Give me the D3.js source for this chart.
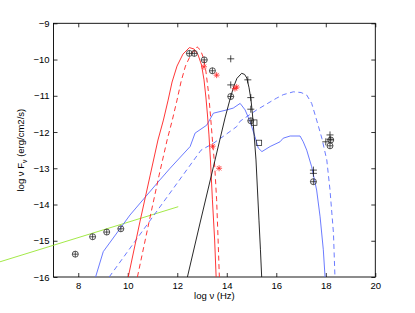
<!DOCTYPE html>
<html>
<head>
<meta charset="utf-8">
<script src="https://cdnjs.cloudflare.com/ajax/libs/d3/7.8.5/d3.min.js"></script>
<style>
body { margin: 0; background: #fff; }
text { font-family: "Liberation Sans", Arial, sans-serif; fill: #000; }
</style>
</head>
<body>
<div class="d3"></div>
<script>
// model curves, [log nu, log nuFnu]
var redSolid = [[10.02,-16],[10.49,-14.48],[10.90,-13.21],[11.22,-12.22],[11.44,-11.67],[11.63,-11.12],
	[11.79,-10.62],[11.99,-10.18],[12.23,-9.85],[12.49,-9.67],[12.68,-9.71],[12.84,-9.87],[12.98,-10.15],
	[13.08,-10.56],[13.16,-11.06],[13.22,-11.53],[13.28,-12.08],[13.34,-12.77],[13.42,-13.87],[13.51,-14.98],[13.57,-16]];
var redDashed = [[10.39,-16],[10.86,-14.48],[11.26,-13.21],[11.59,-12.22],[11.80,-11.67],[11.99,-11.12],
	[12.15,-10.62],[12.33,-10.18],[12.56,-9.85],[12.80,-9.65],[12.94,-9.74],[13.06,-9.96],[13.16,-10.34],
	[13.26,-10.90],[13.34,-11.53],[13.42,-12.22],[13.51,-12.91],[13.59,-13.87],[13.65,-14.98],[13.70,-16]];
var blackSolid = [[12.41,-16],[12.92,-14.51],[13.46,-12.96],[13.93,-11.61],[14.16,-11.02],[14.29,-10.73],
	[14.41,-10.52],[14.60,-10.38],[14.72,-10.41],[14.81,-10.51],[14.90,-10.78],[14.98,-11.12],[15.04,-11.53],
	[15.11,-12.13],[15.18,-12.77],[15.24,-13.60],[15.30,-14.43],[15.36,-15.25],[15.41,-16]];
var blueSolid = [[8.70,-16],[9.01,-15.30],[10.09,-14.29],[11.30,-13.32],[11.71,-13.0],[12.52,-12.40],
	[12.72,-12.03],[13.19,-11.81],[13.46,-11.48],[14.0,-11.39],[14.26,-11.34],[14.54,-11.21],[14.74,-11.39],
	[14.94,-11.71],[15.14,-12.13],[15.27,-12.44],[15.42,-12.54],[15.75,-12.40],[16.15,-12.27],[16.28,-12.17],
	[16.56,-12.11],[16.96,-12.11],[17.09,-12.27],[17.23,-12.50],[17.43,-12.96],[17.63,-13.60],[17.77,-14.34],
	[17.90,-15.25],[17.97,-16]];
var blueDashed = [[9.25,-16],[12.96,-12.50],[13.46,-12.31],[14.0,-12.05],[14.40,-11.85],[14.54,-11.70],
	[15.21,-11.39],[15.75,-11.17],[16.0,-11.07],[16.28,-10.97],[16.69,-10.89],[17.0,-10.91],[17.23,-10.98],
	[17.43,-11.21],[17.63,-11.67],[17.84,-12.17],[18.04,-12.77],[18.17,-13.60],[18.31,-14.79],[18.37,-16]];
var greenLine = [[4.84,-15.58],[12.04,-14.06]];

// observed points
var circlePts = [[7.88,-15.37],[8.58,-14.89],[9.15,-14.76],[9.72,-14.67],[12.49,-9.83],[12.69,-9.83],
	[13.09,-10.01],[13.42,-10.31],[14.16,-11.02],[14.97,-11.69],[18.20,-12.22],[18.17,-12.38],[17.50,-13.37]];
var plusPts = [[14.16,-9.98],[14.16,-10.70],[14.85,-10.56],[14.97,-11.05],[14.97,-11.37],
	[18.17,-12.08],[18.17,-12.20],[18.00,-12.27],[17.50,-13.05],[17.50,-13.14]];
var squarePts = [[15.11,-11.74],[15.30,-12.30]];
var starPts = [[13.08,-10.20],[13.59,-10.43],[14.33,-10.80],[14.40,-10.76],[13.43,-12.39],[13.69,-13.0]];

var xTicks = [8,10,12,14,16,18,20];
var yTicks = [-16,-15,-14,-13,-12,-11,-10,-9];

var w = 415;
var h = 313;

var svg = d3.select(".d3")
	.append("svg")
	.attr("width", w)
	.attr("height", h);

var xScale = d3.scaleLinear().domain([7, 20]).range([53.5, 375.3]);
var yScale = d3.scaleLinear().domain([-16, -9]).range([277, 23.3]);

var fmt = d => d < 0 ? "\u2212" + Math.abs(d) : "" + d;

// axes, ticks pointing inward like matlab
svg.append("g")
	.attr("transform", "translate(0," + yScale(-16) + ")")
	.call(d3.axisBottom(xScale).tickValues(xTicks).tickSizeInner(-4).tickSizeOuter(0).tickPadding(5).tickFormat(fmt));
svg.append("g")
	.attr("transform", "translate(0," + yScale(-9) + ")")
	.call(d3.axisTop(xScale).tickValues(xTicks).tickSizeInner(-4).tickSizeOuter(0).tickFormat(""));
svg.append("g")
	.attr("transform", "translate(" + xScale(7) + ",0)")
	.call(d3.axisLeft(yScale).tickValues(yTicks).tickSizeInner(-4).tickSizeOuter(0).tickPadding(4).tickFormat(fmt));
svg.append("g")
	.attr("transform", "translate(" + xScale(20) + ",0)")
	.call(d3.axisRight(yScale).tickValues(yTicks).tickSizeInner(-4).tickSizeOuter(0).tickFormat(""));

svg.selectAll(".domain").remove();
svg.selectAll(".tick line").attr("stroke", "#000").attr("stroke-width", 0.8);
svg.selectAll(".tick text").attr("font-size", "9.5px").attr("font-family", "'Liberation Sans', Arial, sans-serif");

svg.append("rect")
	.attr("x", xScale(7))
	.attr("y", yScale(-9))
	.attr("width", xScale(20) - xScale(7))
	.attr("height", yScale(-16) - yScale(-9))
	.attr("fill", "none")
	.attr("stroke", "#000")
	.attr("stroke-width", 0.9);

var line = d3.line().x(d => xScale(d[0])).y(d => yScale(d[1]));

var curves = [
	{data: greenLine, color: "#99e633", dash: null},
	{data: blueSolid, color: "#5a6cff", dash: null},
	{data: blueDashed, color: "#5a6cff", dash: "5,3.5"},
	{data: redSolid, color: "#ff2020", dash: null},
	{data: redDashed, color: "#ff2020", dash: "5,3.5"},
	{data: blackSolid, color: "#111", dash: null}
];
curves.forEach(c => {
	svg.append("path")
		.attr("d", line(c.data))
		.attr("fill", "none")
		.attr("stroke", c.color)
		.attr("stroke-width", 0.9)
		.attr("stroke-dasharray", c.dash);
});

// markers
var mk = svg.append("g").attr("stroke-width", 0.75).attr("fill", "none");

circlePts.forEach(d => {
	var cx = xScale(d[0]), cy = yScale(d[1]);
	mk.append("circle").attr("cx", cx).attr("cy", cy).attr("r", 3).attr("stroke", "#222");
	mk.append("path").attr("d", "M" + (cx - 3) + "," + cy + "H" + (cx + 3) + "M" + cx + "," + (cy - 3) + "V" + (cy + 3)).attr("stroke", "#222");
});
plusPts.forEach(d => {
	var cx = xScale(d[0]), cy = yScale(d[1]);
	mk.append("path").attr("d", "M" + (cx - 3.5) + "," + cy + "H" + (cx + 3.5) + "M" + cx + "," + (cy - 3.5) + "V" + (cy + 3.5)).attr("stroke", "#111");
});
squarePts.forEach(d => {
	var cx = xScale(d[0]), cy = yScale(d[1]);
	mk.append("rect").attr("x", cx - 2.7).attr("y", cy - 2.7).attr("width", 5.4).attr("height", 5.4).attr("stroke", "#222");
});
starPts.forEach(d => {
	var cx = xScale(d[0]), cy = yScale(d[1]), s = 3, t = 2.2;
	mk.append("path")
		.attr("d", "M" + (cx - s) + "," + cy + "H" + (cx + s) + "M" + cx + "," + (cy - s) + "V" + (cy + s) +
			"M" + (cx - t) + "," + (cy - t) + "L" + (cx + t) + "," + (cy + t) +
			"M" + (cx - t) + "," + (cy + t) + "L" + (cx + t) + "," + (cy - t))
		.attr("stroke", "#ff2020");
});

// axis labels
svg.append("text")
	.attr("x", (xScale(7) + xScale(20)) / 2)
	.attr("y", 299)
	.attr("text-anchor", "middle")
	.attr("font-size", "9.5px")
	.text("log \u03bd (Hz)");

var yl = svg.append("text")
	.attr("transform", "translate(24," + (yScale(-9) + yScale(-16)) / 2 + ") rotate(-90)")
	.attr("text-anchor", "middle")
	.attr("font-size", "9.5px");
yl.append("tspan").text("log \u03bd F");
yl.append("tspan").attr("font-size", "7px").attr("dy", 2.5).text("\u03bd");
yl.append("tspan").attr("dy", -2.5).text(" (erg/cm2/s)");
</script>
</body>
</html>
